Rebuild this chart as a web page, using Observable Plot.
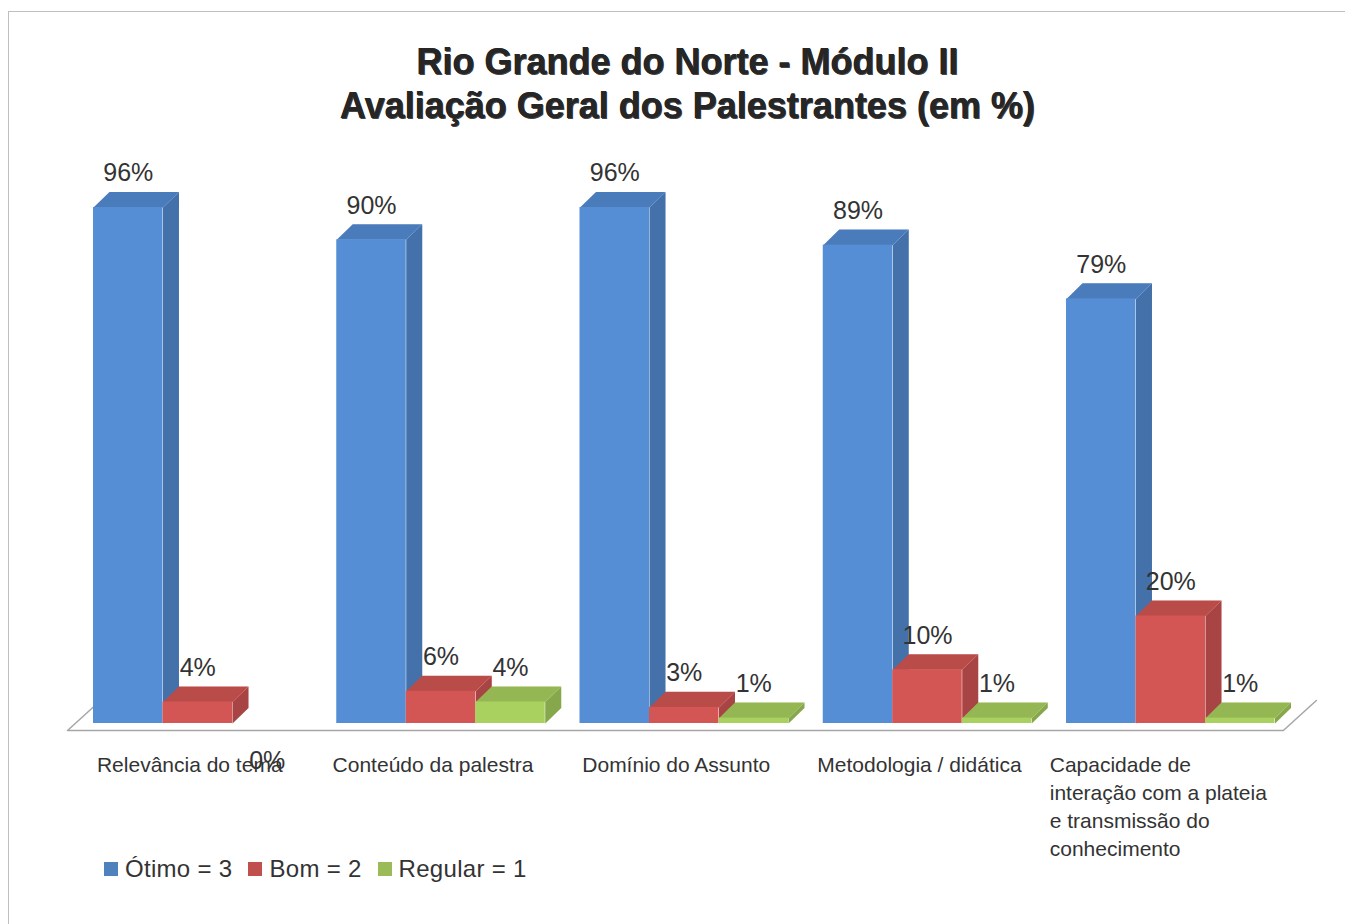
<!DOCTYPE html>
<html>
<head>
<meta charset="utf-8">
<script src="https://cdn.jsdelivr.net/npm/d3@7"></script>
<script src="https://cdn.jsdelivr.net/npm/@observablehq/plot@0.6"></script>
<style>
  body { margin: 0; background: #fff; font-family: "Liberation Sans", Arial, sans-serif; }
  #wrap { position: relative; width: 1345px; height: 924px; overflow: hidden; background: #fff; }
  #frame { position: absolute; left: 8px; top: 11px; width: 1400px; height: 1000px; border: 1px solid #bfbfbf; box-sizing: border-box; }
  #title { position: absolute; left: 8px; width: 1359px; top: 40px; text-align: center; font-weight: bold; font-size: 36px; line-height: 44px; color: #262626; text-shadow: 0.7px 0.7px 0 #444, -0.3px 0 0 #262626; }
  #chart { position: absolute; left: 0; top: 140px; }
  #legend { position: absolute; left: 104px; top: 855px; display: flex; align-items: center; font-size: 24px; line-height: 28px; color: #333; letter-spacing: 0.3px; }
  #legend .item { display: flex; align-items: center; margin-right: 16px; }
  #legend .sw { width: 14px; height: 14px; margin-right: 7px; }
</style>
</head>
<body>
<div id="wrap">
  <div id="frame"></div>
  <div id="title">Rio Grande do Norte - Módulo II<br>Avaliação Geral dos Palestrantes (em %)</div>
  <div id="chart"></div>
  <div id="legend"></div>
</div>
<script>
// ---- data ----
const categories = [
  "Relevância do tema",
  "Conteúdo da palestra",
  "Domínio do Assunto",
  "Metodologia / didática",
  "Capacidade de\ninteração com a plateia\ne transmissão do\nconhecimento"
];
const series = ["Ótimo = 3", "Bom = 2", "Regular = 1"];
const otimo   = [96, 90, 96, 89, 79];
const bom     = [4, 6, 3, 10, 20];
const regular = [0, 4, 1, 1, 1];

// ---- styling ----
const frontColors  = ["#558ed5", "#d35654", "#a9d160"];
const legendColors = ["#4f81bd", "#c0504d", "#9bbb59"];

// ---- layout (data units: one bar = 1 x-unit, y in %) ----
const GROUP = 3.5;         // group step
const DX = 0.23, DY = 2.9; // 3D depth
const values = [otimo, bom, regular];

const rows = [];
categories.forEach((c, ci) => series.forEach((s, si) => {
  const x0 = ci * GROUP + si;
  rows.push({c, ci, s, si, v: values[si][ci], x0, x1: x0 + 1});
}));
const bars = rows.filter(d => d.v > 0);
const zeros = rows.filter(d => d.v === 0);

const sides = bars.flatMap((d, i) =>
  [[d.x1, 0], [d.x1 + DX, DY], [d.x1 + DX, d.v + DY], [d.x1, d.v]]
    .map(([x, y]) => ({id: i, s: d.s, x, y})));
const tops = bars.flatMap((d, i) =>
  [[d.x0, d.v], [d.x0 + DX, d.v + DY], [d.x1 + DX, d.v + DY], [d.x1, d.v]]
    .map(([x, y]) => ({id: i, s: d.s, x, y})));

const n = categories.length;
const xEnd = n * GROUP - 0.5;
const fL = -0.374, fR = xEnd + 0.12, fY = -1.3, fDX = 0.475, fDY = 5.58;
const floor = [
  {x: fL + fDX, y: fY + fDY}, {x: fL, y: fY}, {x: fR, y: fY}, {x: fR + fDX, y: fY + fDY}
];

const cats = categories.map((c, ci) => ({c, ci, xc: ci * GROUP + 1.5}));

const font = "'Liberation Sans', Arial, sans-serif";

const chart = Plot.plot({
  width: 1345,
  height: 740,
  marginLeft: 93,
  marginRight: 1345 - (93 + xEnd * 69.5),
  marginTop: 45.5,
  marginBottom: 157,
  style: {background: "transparent", fontFamily: font, overflow: "visible"},
  x: {domain: [0, xEnd], axis: null},
  y: {domain: [0, 100], axis: null},
  color: {domain: series, range: frontColors},
  marks: [
    Plot.line(floor, {x: "x", y: "y", stroke: "#a6a6a6", strokeWidth: 1.5}),
    Plot.line(sides, {x: "x", y: "y", z: "id", fill: "s", stroke: "none"}),
    Plot.line(sides, {x: "x", y: "y", z: "id", fill: "black", fillOpacity: 0.2, stroke: "none"}),
    Plot.line(tops, {x: "x", y: "y", z: "id", fill: "s", stroke: "none"}),
    Plot.line(tops, {x: "x", y: "y", z: "id", fill: "black", fillOpacity: 0.12, stroke: "none"}),
    Plot.rect(bars, {x1: "x0", x2: "x1", y1: 0, y2: "v", fill: "s"}),
    Plot.text(bars, {x: d => (d.x0 + d.x1) / 2, y: d => d.v + DY, text: d => d.v + "%",
      dy: -10.5, lineAnchor: "bottom", fontSize: 25, fill: "#333"}),
    Plot.text(zeros, {x: d => (d.x0 + d.x1) / 2, y: 0, text: d => d.v + "%",
      dy: 45, lineAnchor: "bottom", fontSize: 25, fill: "#333"}),
    Plot.text(cats.slice(0, n - 1), {x: "xc", y: 0, text: "c", dx: -8, dy: 34,
      lineAnchor: "top", fontSize: 21, fill: "#333"}),
    Plot.text(cats.slice(n - 1), {x: "xc", y: 0, text: "c", dx: -121, dy: 29,
      textAnchor: "start", lineAnchor: "top", lineHeight: 1.333, fontSize: 21, fill: "#333"})
  ]
});
document.getElementById("chart").appendChild(chart);

const legend = document.getElementById("legend");
series.forEach((s, i) => {
  const item = document.createElement("div");
  item.className = "item";
  const sw = document.createElement("div");
  sw.className = "sw";
  sw.style.background = legendColors[i];
  const t = document.createElement("span");
  t.textContent = s;
  item.appendChild(sw); item.appendChild(t);
  legend.appendChild(item);
});
</script>
</body>
</html>
